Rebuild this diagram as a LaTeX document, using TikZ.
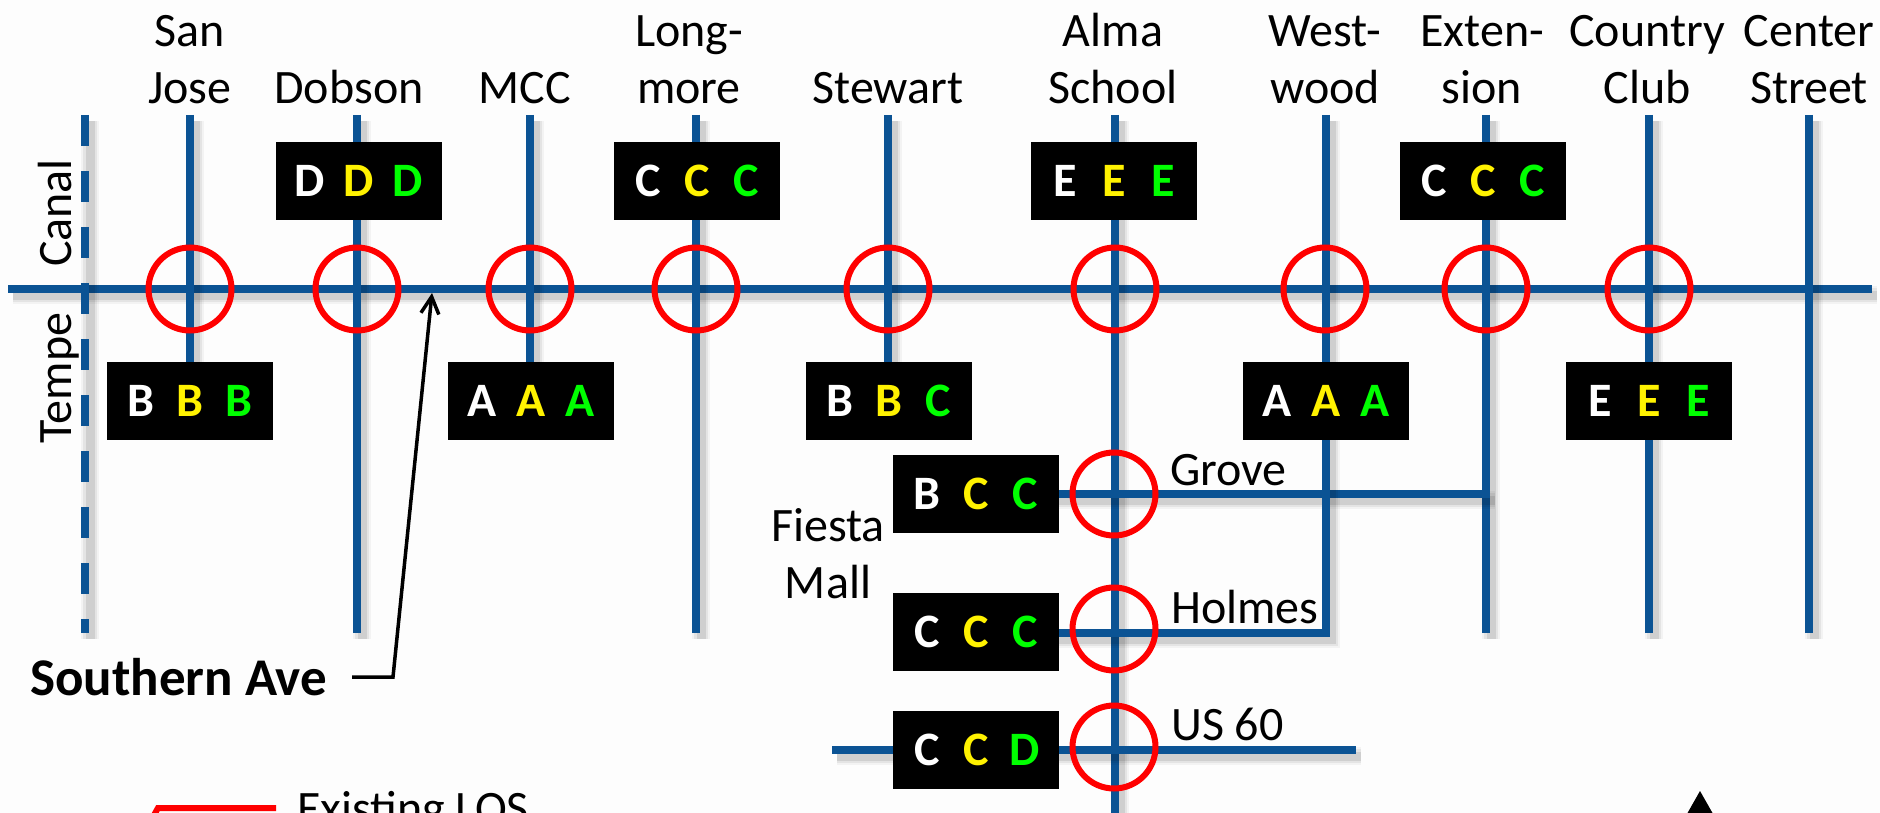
\documentclass[tikz,border=0pt]{standalone}
\usepackage{fontspec}
\setmainfont{Carlito}
\usetikzlibrary{arrows.meta}
\definecolor{roadblue}{HTML}{0B5394}
\definecolor{paper}{HTML}{FDFDFD}
\tikzset{
  road/.style={draw=roadblue, line width=8.5pt,
    preaction={draw=black, opacity=.04, line width=18pt, transform canvas={xshift=5pt, yshift=-6pt}},
    preaction={draw=black, opacity=.06, line width=14pt, transform canvas={xshift=5pt, yshift=-6pt}},
    preaction={draw=black, opacity=.09, line width=9pt, transform canvas={xshift=5pt, yshift=-6pt}}},
  gradebox/.style={fill=black, minimum width=166pt, minimum height=78pt, inner sep=0pt,
    font=\fontsize{48}{50}\selectfont\bfseries},
  loscircle/.style={circle, draw=red, line width=6pt, minimum size=83pt, inner sep=0pt},
  streetlabel/.style={anchor=base, inner sep=0pt, align=center, font=\fontsize{48}{57}\selectfont},
  sidelabel/.style={streetlabel, anchor=base west}
}
\newcommand{\losgrades}[3]{\makebox[49pt]{\color{white}#1}\makebox[49pt]{\color{yellow}#2}\makebox[49pt]{\color{green}#3}}
\begin{document}
\begin{tikzpicture}[x=1pt, y=-1pt]
      \clip (0, 0) rectangle (1880, 813);
      \fill [paper] (0, 0) rectangle (1880, 813);

      \draw[road] (8, 289) -- (1872, 289);
      \draw[road, dash pattern=on 31pt off 25pt] (85, 115) -- (85, 633);
      \draw[road] (190, 115) -- (190, 400);
      \draw[road] (357, 115) -- (357, 633);
      \draw[road] (530, 115) -- (530, 400);
      \draw[road] (696, 115) -- (696, 633);
      \draw[road] (888, 115) -- (888, 400);
      \draw[road] (1115, 115) -- (1115, 830);
      \draw[road] (1486, 115) -- (1486, 633);
      \draw[road] (1649, 115) -- (1649, 633);
      \draw[road] (1809, 115) -- (1809, 633);
      \draw[road] (976, 494) -- (1490, 494);
      \draw[road] (1326, 115) -- (1326, 633) -- (976, 633);
      \draw[road] (832, 750) -- (1356, 750);

      \node[streetlabel] (sanjose) at (190, 104) {San\\Jose};
      \node[streetlabel] (dobson) at (349, 104) {Dobson};
      \node[streetlabel] (mcc) at (525, 104) {MCC};
      \node[streetlabel] (longmore) at (689, 104) {Long-\\more};
      \node[streetlabel] (stewart) at (888, 104) {Stewart};
      \node[streetlabel] (alma) at (1113, 104) {Alma\\School};
      \node[streetlabel] (westwood) at (1325, 104) {West-\\wood};
      \node[streetlabel] (extension) at (1482, 104) {Exten-\\sion};
      \node[streetlabel] (country) at (1647, 104) {Country\\Club};
      \node[streetlabel] (center) at (1809, 104) {Center\\Street};

      \node[streetlabel, rotate=90] (canal) at (71, 213) {Canal};
      \node[streetlabel, rotate=90] (tempe) at (71, 378) {Tempe};

      \node[gradebox] (boxdobson) at (359, 181) {\losgrades{D}{D}{D}};
      \node[gradebox] (boxlongmore) at (697, 181) {\losgrades{C}{C}{C}};
      \node[gradebox] (boxalma) at (1114, 181) {\losgrades{E}{E}{E}};
      \node[gradebox] (boxextension) at (1483, 181) {\losgrades{C}{C}{C}};
      \node[gradebox] (boxsanjose) at (190, 401) {\losgrades{B}{B}{B}};
      \node[gradebox] (boxmcc) at (531, 401) {\losgrades{A}{A}{A}};
      \node[gradebox] (boxstewart) at (889, 401) {\losgrades{B}{B}{C}};
      \node[gradebox] (boxwestwood) at (1326, 401) {\losgrades{A}{A}{A}};
      \node[gradebox] (boxcountry) at (1649, 401) {\losgrades{E}{E}{E}};
      \node[gradebox] (boxgrove) at (976, 494) {\losgrades{B}{C}{C}};
      \node[gradebox] (boxholmes) at (976, 632) {\losgrades{C}{C}{C}};
      \node[gradebox] (boxus) at (976, 750) {\losgrades{C}{C}{D}};

      \node[loscircle] (xsanjose) at (190, 289) {};
      \node[loscircle] (xdobson) at (357, 289) {};
      \node[loscircle] (xmcc) at (530, 289) {};
      \node[loscircle] (xlongmore) at (696, 289) {};
      \node[loscircle] (xstewart) at (888, 289) {};
      \node[loscircle] (xalma) at (1115, 289) {};
      \node[loscircle] (xwestwood) at (1325, 289) {};
      \node[loscircle] (xextension) at (1486, 289) {};
      \node[loscircle] (xcountry) at (1649, 289) {};
      \node[loscircle] (xgrove) at (1114, 494) {};
      \node[loscircle] (xholmes) at (1114, 629) {};
      \node[loscircle] (xus) at (1114, 747) {};

      \node[sidelabel] (grove) at (1170, 485) {Grove};
      \node[sidelabel] (holmes) at (1171, 623) {Holmes};
      \node[sidelabel] (us) at (1171, 740) {US 60};
      \node[streetlabel] (fiesta) at (828, 598) {Fiesta\\Mall};

      \node[sidelabel, font=\fontsize{53}{59}\selectfont\bfseries] (southern) at (30, 695) {Southern Ave};
      \coordinate (bend) at (393, 677);
      \coordinate (tip) at (432, 293);
      \draw[line width=3.5pt, -{Straight Barb[length=17pt, width=18pt]}, shorten <=25pt] (southern.east |- bend) -- (bend) -- (tip);

      \node[sidelabel] (existing) at (297, 824) {Existing LOS};
      \coordinate (legendcorner) at (158, 808);
      \draw[red, line width=6pt] (276, 808) -- (legendcorner) -- (148, 826);

      \fill (1700, 791) -- (1675, 835) -- (1725, 835) -- cycle;
    \end{tikzpicture}
\end{document}
